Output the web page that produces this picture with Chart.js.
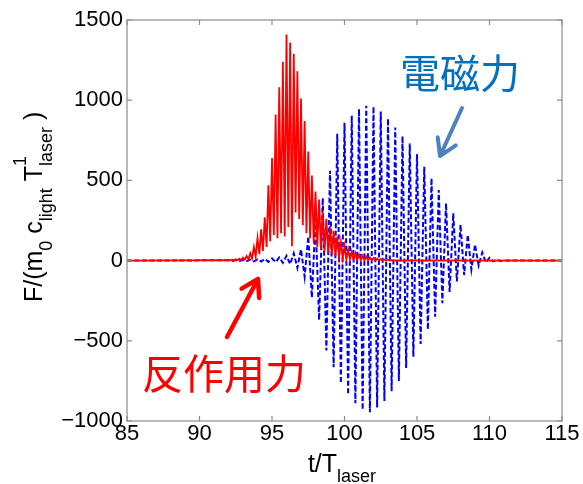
<!DOCTYPE html>
<html>
<head>
<meta charset="utf-8">
<style>
  html, body { margin: 0; padding: 0; background: #fff; }
  #wrap { width: 583px; height: 484px; }
</style>
<script src="https://cdn.jsdelivr.net/npm/chart.js@4.4.1/dist/chart.umd.min.js"></script>
</head>
<body>
<div id="wrap"><canvas id="chart" width="583" height="484"></canvas></div>
<script>
// t / T_laser ticks and force ticks
const xTicks = [85, 90, 95, 100, 105, 110, 115]
const yTicks = [-1000, -500, 0, 500, 1000, 1500]

// reaction force (red, solid)
const redTime = [85,
  92, 92.125, 92.25, 92.375, 92.5, 92.625, 92.75, 92.875,
  93, 93.125, 93.25, 93.375, 93.5, 93.625, 93.75, 93.875,
  94, 94.125, 94.25, 94.375, 94.5, 94.625, 94.75, 94.875,
  95, 95.125, 95.25, 95.375, 95.5, 95.625, 95.75, 95.875,
  96, 96.125, 96.25, 96.375, 96.5, 96.625, 96.75, 96.875,
  97, 97.125, 97.25, 97.375, 97.5, 97.625, 97.75, 97.875,
  98, 98.125, 98.25, 98.375, 98.5, 98.625, 98.75, 98.875,
  99, 99.125, 99.25, 99.375, 99.5, 99.625, 99.75, 99.875,
  100, 100.125, 100.25, 100.375, 100.5, 100.625, 100.75, 100.875,
  101, 101.125, 101.25, 101.375, 101.5, 101.625, 101.75, 101.875,
  102, 102.125, 102.25, 102.375, 102.5, 102.625, 102.75, 102.875,
  103, 103.125, 103.25, 103.375, 103.5,
  115]
const redForce = [0,
  3, 1, 5, 2, 8, 3, 12, 4,
  18, 6, 28, 10, 45, 14, 85, 25,
  140, 40, 195, 60, 270, 85, 470, 120,
  640, 160, 910, 140, 1080, 170, 1240, 150,
  1410, 210, 1360, 90, 1290, 300, 1180, 260,
  1010, 220, 870, 170, 680, 140, 530, 110,
  430, 85, 380, 70, 300, 55, 260, 45,
  215, 35, 185, 28, 150, 20, 115, 15,
  90, 10, 70, 8, 55, 6, 45, 5,
  38, 4, 30, 3, 25, 2, 20, 2,
  16, 1, 12, 1, 9, 0, 7, 0,
  5, 0, 3, 0, 2,
  0]

// electromagnetic force (blue, dashed)
const emTime = [85,
  92, 92.25, 92.5, 92.75, 93, 93.25, 93.5, 93.75,
  94, 94.25, 94.5, 94.75, 95, 95.25, 95.5, 95.75,
  96, 96.25, 96.5, 96.75, 97, 97.25, 97.5, 97.75,
  98, 98.25, 98.5, 98.75, 99, 99.25, 99.5, 99.75,
  100, 100.25, 100.5, 100.75, 101, 101.25, 101.5, 101.75,
  102, 102.25, 102.5, 102.75, 103, 103.25, 103.5, 103.75,
  104, 104.25, 104.5, 104.75, 105, 105.25, 105.5, 105.75,
  106, 106.25, 106.5, 106.75, 107, 107.25, 107.5, 107.75,
  108, 108.25, 108.5, 108.75, 109, 109.25, 109.5, 109.75,
  110, 110.25, 110.5, 110.75, 111,
  115]
const emForce = [0,
  2, -2, 3, -3, 4, -4, 6, -5,
  8, -6, 10, -8, 14, -10, 20, -14,
  30, -22, 45, -45, 70, -100, 150, -230,
  255, -370, 390, -560, 560, -665, 790, -765,
  860, -835, 905, -890, 945, -930, 965, -945,
  960, -915, 930, -875, 885, -815, 830, -750,
  775, -670, 730, -600, 665, -520, 585, -430,
  513, -350, 440, -265, 357, -195, 295, -130,
  225, -90, 160, -55, 100, -30, 50, -12,
  18, -5, 6, -2, 1,
  0]

const toPoints = (xs, ys) => xs.map((x, i) => ({ x, y: ys[i] }))
const tickFont = { family: "'Liberation Sans', Arial, sans-serif", size: 22 }
const labelFamily = "'Liberation Sans', Arial, sans-serif"
const cjkFamily = "'Noto Sans CJK JP', sans-serif"

// writes runs of text with sub/superscripts along the current x direction
function drawRuns(ctx, runs, x0, baseline, measureOnly) {
  let x = x0
  runs.forEach(r => {
    ctx.font = `${r.size}px ${labelFamily}`
    if (!measureOnly) ctx.fillText(r.text, x, baseline + (r.dy || 0))
    let w = ctx.measureText(r.text).width
    if (r.under) {
      ctx.font = `${r.under.size}px ${labelFamily}`
      if (!measureOnly) ctx.fillText(r.under.text, x, baseline + r.under.dy)
      w = Math.max(w, ctx.measureText(r.under.text).width)
    }
    x += w
  })
  return x - x0
}

function arrow(ctx, x0, y0, x1, y1, color, width) {
  const ang = Math.atan2(y1 - y0, x1 - x0)
  const head = 19, spread = 0.55
  ctx.strokeStyle = color
  ctx.lineWidth = width
  ctx.lineCap = 'round'
  ctx.lineJoin = 'round'
  ctx.beginPath()
  ctx.moveTo(x0, y0)
  ctx.lineTo(x1, y1)
  ctx.moveTo(x1 - head * Math.cos(ang - spread), y1 - head * Math.sin(ang - spread))
  ctx.lineTo(x1, y1)
  ctx.lineTo(x1 - head * Math.cos(ang + spread), y1 - head * Math.sin(ang + spread))
  ctx.stroke()
}

const framePlugin = {
  id: 'frame',
  afterDatasetsDraw(chart) {
    const { ctx, chartArea: a, scales: { x, y } } = chart
    ctx.save()
    ctx.strokeStyle = '#8c8c8c'
    ctx.lineWidth = 1.2
    ctx.strokeRect(a.left, a.top, a.width, a.height)
    ctx.beginPath()
    xTicks.forEach(v => {
      const px = x.getPixelForValue(v)
      ctx.moveTo(px, a.bottom); ctx.lineTo(px, a.bottom - 5)
      ctx.moveTo(px, a.top); ctx.lineTo(px, a.top + 5)
    })
    yTicks.forEach(v => {
      const py = y.getPixelForValue(v)
      ctx.moveTo(a.left, py); ctx.lineTo(a.left + 5, py)
      ctx.moveTo(a.right, py); ctx.lineTo(a.right - 5, py)
    })
    ctx.stroke()
    ctx.restore()
  },
  afterDraw(chart) {
    const { ctx } = chart
    ctx.save()
    ctx.fillStyle = '#000'
    ctx.textBaseline = 'alphabetic'
    ctx.textAlign = 'left'

    // y axis title, rotated
    ctx.save()
    ctx.translate(42, 302)
    ctx.rotate(-Math.PI / 2)
    drawRuns(ctx, [
      { text: 'F/(m', size: 25 },
      { text: '0', size: 18, dy: 10 },
      { text: ' c', size: 25 },
      { text: 'light', size: 18, dy: 10 },
      { text: ' T', size: 25 },
      { text: '1', size: 18, dy: -16, under: { text: 'laser', size: 18, dy: 10 } },
      { text: ' )', size: 25 },
    ], 0, 0)
    ctx.restore()

    // x axis title
    const xRuns = [
      { text: 't/T', size: 25 },
      { text: 'laser', size: 18, dy: 10 },
    ]
    const w = drawRuns(ctx, xRuns, 0, 0, true)
    drawRuns(ctx, xRuns, 342 - w / 2, 472)

    // annotations
    ctx.font = `40px ${cjkFamily}`
    ctx.fillStyle = '#0070c0'
    ctx.fillText('電磁力', 400, 88)
    ctx.font = `41px ${cjkFamily}`
    ctx.fillStyle = '#ff0000'
    ctx.fillText('反作用力', 142, 389)
    arrow(ctx, 462, 108, 440, 156, '#4f81bd', 4)
    arrow(ctx, 227, 337, 258, 279, '#ff0000', 4.5)
    ctx.restore()
  }
}

const minus = v => String(v).replace('-', '\u2212')

new Chart(document.getElementById('chart'), {
  type: 'line',
  data: {
    datasets: [
      {
        label: '反作用力',
        data: toPoints(redTime, redForce),
        borderColor: '#ff0000',
        borderWidth: 1.8,
        pointRadius: 0,
        tension: 0,
      },
      {
        label: '電磁力',
        data: toPoints(emTime, emForce),
        borderColor: '#0000ff',
        borderWidth: 2,
        borderDash: [5, 2.5],
        pointRadius: 0,
        tension: 0,
      },
    ],
  },
  options: {
    responsive: false,
    devicePixelRatio: 1,
    animation: false,
    layout: { padding: { top: 20, right: 21, left: 0, bottom: 0 } },
    scales: {
      x: {
        type: 'linear',
        min: 85,
        max: 115,
        afterBuildTicks: s => { s.ticks = xTicks.map(value => ({ value })) },
        afterFit: s => { s.height = 63 },
        ticks: { font: tickFont, color: '#000', padding: 0, maxRotation: 0, autoSkip: false, callback: v => minus(v) },
        grid: { display: false, drawTicks: false },
        border: { display: false },
      },
      y: {
        min: -1000,
        max: 1500,
        afterBuildTicks: s => { s.ticks = yTicks.map(value => ({ value })) },
        afterFit: s => { s.width = 127 },
        ticks: { font: tickFont, color: '#000', padding: 4, callback: v => minus(v) },
        grid: { display: false, drawTicks: false },
        border: { display: false },
      },
    },
    plugins: { legend: { display: false }, tooltip: { enabled: false } },
  },
  plugins: [framePlugin],
})
</script>
</body>
</html>
